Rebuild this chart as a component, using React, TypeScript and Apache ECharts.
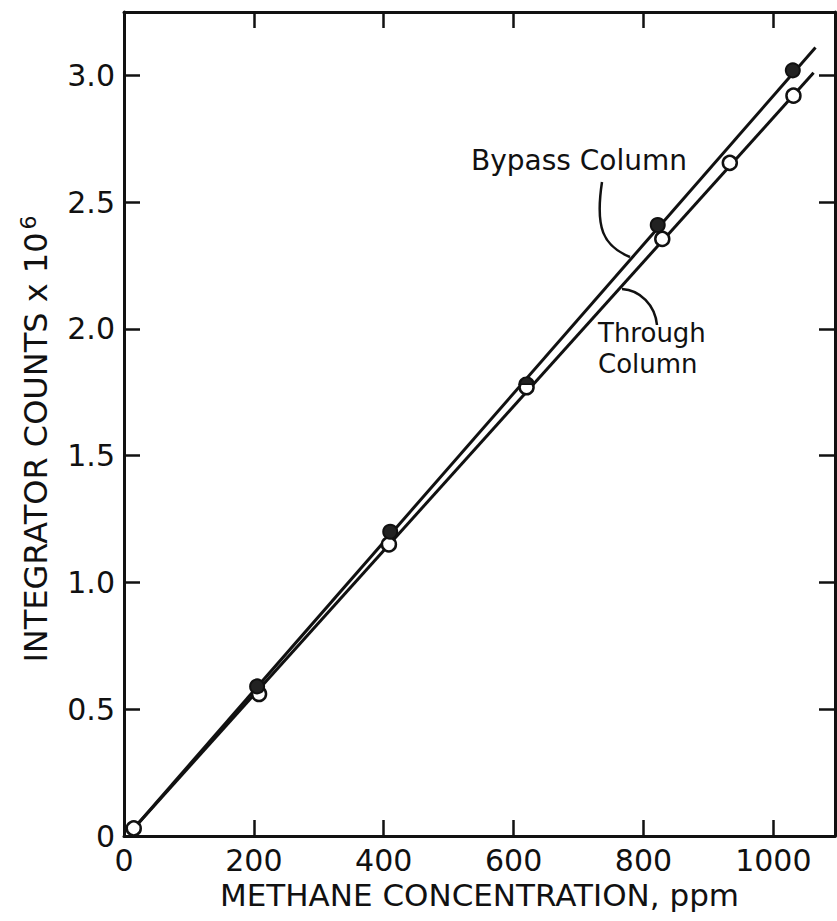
import React, { useEffect, useRef } from "react";
import * as echarts from "echarts";

// ---- data ----
const xTicks = [0, 200, 400, 600, 800, 1000];
const yTicks = [0, 0.5, 1.0, 1.5, 2.0, 2.5, 3.0];

const bypassX = [15, 205, 410, 620, 822, 1030];
const bypassY = [0.03, 0.59, 1.2, 1.78, 2.41, 3.02];

const throughX = [15, 208, 408, 620, 829, 933, 1031];
const throughY = [0.03, 0.56, 1.15, 1.77, 2.355, 2.655, 2.92];

// fitted straight lines (end points)
const bypassFitX = [15, 1065];
const bypassFitY = [0.03, 3.11];
const throughFitX = [15, 1062];
const throughFitY = [0.03, 3.01];

const xName = "METHANE CONCENTRATION, ppm";
const yName = "INTEGRATOR COUNTS x 10";
const yNameSup = "6";
const bypassLabel = "Bypass Column";
const throughLabel = ["Through", "Column"];

const FONT = "DejaVu Sans";
const INK = "#111";

const zip = (xs: number[], ys: number[]) => xs.map((x, i) => [x, ys[i]]);

export default function App() {
  const ref = useRef<HTMLDivElement>(null);

  useEffect(() => {
    if (!ref.current) return;
    const chart = echarts.init(ref.current, undefined, { renderer: "svg" });

    const xStep = xTicks[1] - xTicks[0];
    const yStep = yTicks[1] - yTicks[0];
    const onStep = (v: number, s: number) => Math.abs(v / s - Math.round(v / s)) < 1e-6;

    const axisLine = { show: true, onZero: false, lineStyle: { color: INK, width: 3 } };
    const axisTick = { show: true, inside: true, length: 16, lineStyle: { color: INK, width: 2.5 } };

    const halfDisk = "path://M0 10 A10 10 0 0 1 20 10 Z";

    const bypassData = zip(bypassX, bypassY).map((p, i) => {
      if (i === 0) return { value: p, symbol: "none" };
      if (Math.abs(p[0] - 620) < 1)
        return { value: p, symbol: halfDisk, symbolSize: [14, 7], symbolOffset: [0, -4] };
      return { value: p };
    });

    chart.setOption({
      animation: false,
      backgroundColor: "#fff",
      grid: { left: 124, right: 2, top: 12, bottom: 85, containLabel: false },
      xAxis: [
        {
          type: "value",
          min: 0,
          max: 1095,
          interval: xStep,
          position: "bottom",
          axisLine,
          axisTick,
          splitLine: { show: false },
          axisLabel: {
            color: INK,
            fontFamily: FONT,
            fontSize: 30,
            margin: 9,
            showMaxLabel: false,
            formatter: (v: number) => (onStep(v, xStep) ? String(v) : ""),
          },
          name: xName,
          nameLocation: "middle",
          nameGap: 41,
          nameTextStyle: { color: INK, fontFamily: FONT, fontSize: 31 },
        },
        {
          type: "value",
          min: 0,
          max: 1095,
          interval: xStep,
          position: "top",
          axisLine,
          axisTick,
          splitLine: { show: false },
          axisLabel: { show: false },
        },
      ],
      yAxis: [
        {
          type: "value",
          min: 0,
          max: 3.25,
          interval: yStep,
          position: "left",
          axisLine,
          axisTick,
          splitLine: { show: false },
          axisLabel: {
            color: INK,
            fontFamily: FONT,
            fontSize: 30,
            margin: 9,
            showMaxLabel: false,
            formatter: (v: number) => (!onStep(v, yStep) ? "" : v === 0 ? "0" : v.toFixed(1)),
          },
          name: `${yName}{sup|${yNameSup}}`,
          nameLocation: "middle",
          nameGap: 70,
          nameTextStyle: {
            color: INK,
            fontFamily: FONT,
            fontSize: 32,
            padding: [0, 30, 0, 0],
            rich: {
              sup: { fontFamily: FONT, fontSize: 22, color: INK, padding: [0, 0, 15, 3] },
            },
          },
        },
        {
          type: "value",
          min: 0,
          max: 3.25,
          interval: yStep,
          position: "right",
          axisLine,
          axisTick,
          splitLine: { show: false },
          axisLabel: { show: false },
        },
      ],
      series: [
        {
          type: "line",
          data: zip(throughFitX, throughFitY),
          symbol: "none",
          lineStyle: { color: INK, width: 3 },
          z: 2,
        },
        {
          type: "line",
          data: zip(bypassFitX, bypassFitY),
          symbol: "none",
          lineStyle: { color: INK, width: 3 },
          z: 2,
        },
        {
          type: "scatter",
          data: zip(throughX, throughY),
          symbol: "circle",
          symbolSize: 14,
          itemStyle: { color: "#fff", borderColor: INK, borderWidth: 2.5, opacity: 1 },
          z: 3,
        },
        {
          type: "scatter",
          data: bypassData,
          symbol: "circle",
          symbolSize: 14,
          itemStyle: { color: "#222", borderColor: INK, borderWidth: 2, opacity: 1 },
          z: 4,
        },
      ],
      graphic: [
        {
          type: "text",
          left: 471,
          top: 146,
          style: { text: bypassLabel, font: `28px "${FONT}"`, fill: INK },
        },
        {
          type: "text",
          left: 598,
          top: 320,
          style: { text: throughLabel[0], font: `26px "${FONT}"`, fill: INK },
        },
        {
          type: "text",
          left: 598,
          top: 351,
          style: { text: throughLabel[1], font: `26px "${FONT}"`, fill: INK },
        },
        {
          type: "bezierCurve",
          shape: { x1: 602, y1: 182, x2: 630, y2: 257, cpx1: 595, cpy1: 228, cpx2: 603, cpy2: 246 },
          style: { stroke: INK, lineWidth: 2.5, fill: "none" },
        },
        {
          type: "bezierCurve",
          shape: { x1: 622, y1: 289, x2: 657, y2: 325, cpx1: 640, cpy1: 290, cpx2: 655, cpy2: 305 },
          style: { stroke: INK, lineWidth: 2.5, fill: "none" },
        },
      ],
    });

    return () => chart.dispose();
  }, []);

  return (
    <div
      ref={ref}
      style={{ position: "absolute", left: 0, top: 0, width: 837, height: 921, background: "#fff" }}
    />
  );
}
